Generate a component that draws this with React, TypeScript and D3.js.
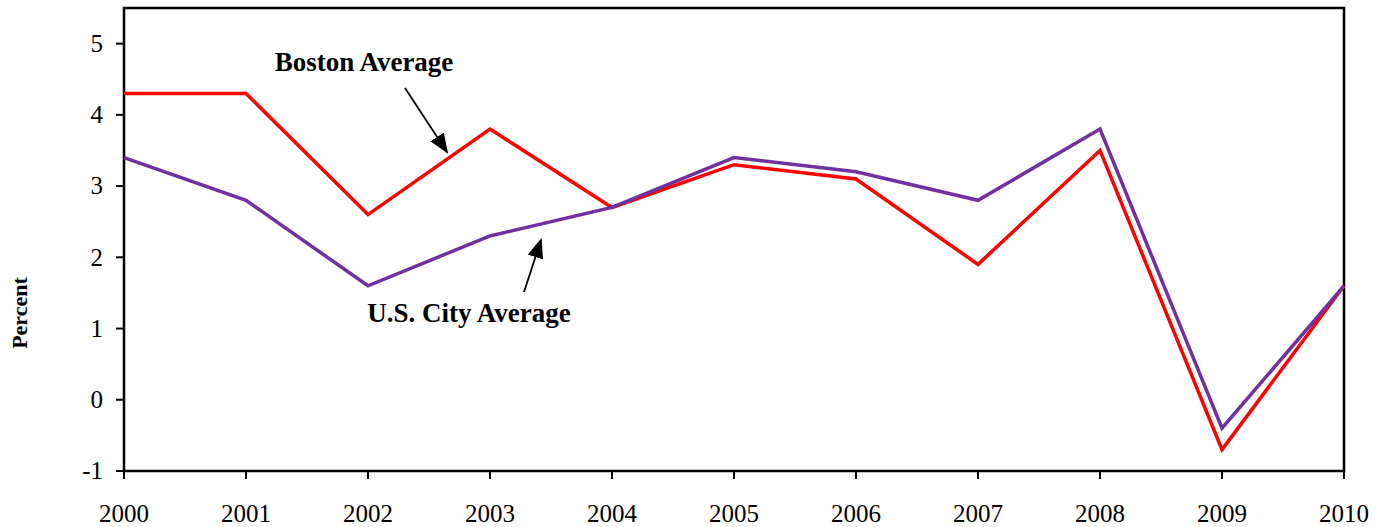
import React from "react";
import * as d3 from "d3";

const years = [2000, 2001, 2002, 2003, 2004, 2005, 2006, 2007, 2008, 2009, 2010];
const boston = [4.3, 4.3, 2.6, 3.8, 2.7, 3.3, 3.1, 1.9, 3.5, -0.7, 1.6];
const usCity = [3.4, 2.8, 1.6, 2.3, 2.7, 3.4, 3.2, 2.8, 3.8, -0.4, 1.6];
const yTicks = [-1, 0, 1, 2, 3, 4, 5];

const W = 1388, H = 527;
const left = 124, right = 1344, top = 8, bottom = 471;
const FONT = "'Liberation Serif', 'Times New Roman', serif";

export default function App() {
  const x = d3.scaleLinear().domain([2000, 2010]).range([left, right]);
  const y = d3.scaleLinear().domain([-1, 5.5]).range([bottom, top]);
  const line = d3.line<number>().x((_, i) => x(years[i])).y((d) => y(d));

  return (
    <svg width={W} height={H} style={{ position: "absolute", left: 0, top: 0, background: "#fff" }}>
      <defs>
        <marker id="ah2" viewBox="0 0 10 10" refX="9" refY="5" markerWidth="20" markerHeight="20" orient="auto" markerUnits="userSpaceOnUse">
          <path d="M0,1 L10,5 L0,9 z" fill="#000" />
        </marker>
      </defs>
      <rect x={left} y={top} width={right - left} height={bottom - top} fill="none" stroke="#000" strokeWidth={2.5} />
      {yTicks.map((t) => (
        <g key={t}>
          <line x1={left - 8} x2={left} y1={y(t)} y2={y(t)} stroke="#000" strokeWidth={2} />
          <text x={103} y={y(t)} dy="0.33em" textAnchor="end" fontFamily={FONT} fontSize={25} fill="#000">{t}</text>
        </g>
      ))}
      {years.map((yr) => (
        <g key={yr}>
          <line x1={x(yr)} x2={x(yr)} y1={bottom} y2={bottom + 8} stroke="#000" strokeWidth={2} />
          <text x={x(yr)} y={522} textAnchor="middle" fontFamily={FONT} fontSize={25} fill="#000">{yr}</text>
        </g>
      ))}
      <text transform={`translate(27,313) rotate(-90)`} textAnchor="middle" fontFamily={FONT} fontSize={22} fontWeight="bold" fill="#000">Percent</text>
      <path d={line(boston) || ""} fill="none" stroke="#FF0000" strokeWidth={3.5} strokeLinejoin="miter" />
      <path d={line(usCity) || ""} fill="none" stroke="#7030A0" strokeWidth={3.5} strokeLinejoin="miter" />
      <text x={364} y={71} textAnchor="middle" fontFamily={FONT} fontSize={27} fontWeight="bold" fill="#000">Boston Average</text>
      <line x1={405} y1={88} x2={447} y2={152} stroke="#000" strokeWidth={1.8} markerEnd="url(#ah2)" />
      <text x={469} y={322} textAnchor="middle" fontFamily={FONT} fontSize={27} fontWeight="bold" fill="#000">U.S. City Average</text>
      <line x1={524} y1={292} x2={541} y2={240} stroke="#000" strokeWidth={1.8} markerEnd="url(#ah2)" />
    </svg>
  );
}
